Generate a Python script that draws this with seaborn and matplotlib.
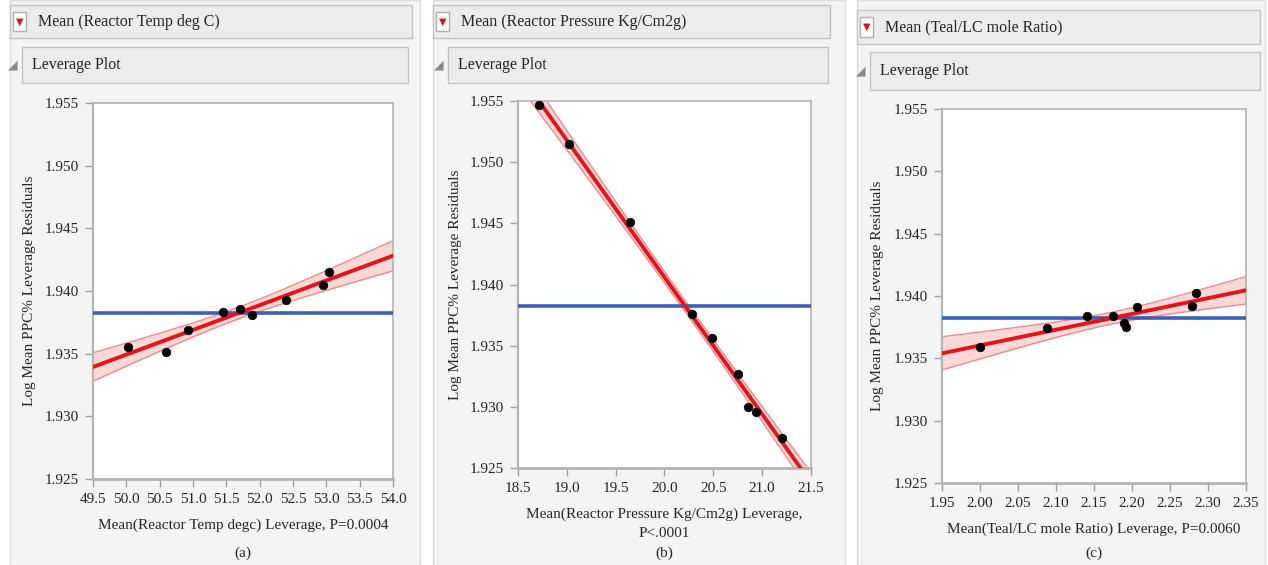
import numpy as np
import pandas as pd
import seaborn as sns
import matplotlib.pyplot as plt
from matplotlib.patches import Rectangle

# values
temp_x = [50.03, 50.60, 50.93, 51.45, 51.70, 51.89, 52.39, 52.95, 53.04]
temp_y = [1.93556, 1.93516, 1.93689, 1.93830, 1.93854, 1.93811, 1.93928, 1.94050, 1.94152]

press_x = [18.71, 19.02, 19.65, 20.28, 20.49, 20.75, 20.86, 20.94, 21.20]
press_y = [1.95467, 1.95148, 1.94508, 1.93759, 1.93560, 1.93268, 1.92999, 1.92955, 1.92743]

teal_x = [2.000, 2.088, 2.141, 2.175, 2.189, 2.192, 2.207, 2.279, 2.284]
teal_y = [1.93589, 1.93741, 1.93840, 1.93840, 1.93781, 1.93749, 1.93914, 1.93920, 1.94022]

temp_ticks = [49.5, 50.0, 50.5, 51.0, 51.5, 52.0, 52.5, 53.0, 53.5, 54.0]
press_ticks = [18.5, 19.0, 19.5, 20.0, 20.5, 21.0, 21.5]
teal_ticks = [1.95, 2.00, 2.05, 2.10, 2.15, 2.20, 2.25, 2.30, 2.35]
y_ticks = [1.925, 1.930, 1.935, 1.940, 1.945, 1.950, 1.955]

headers = ["Mean (Reactor Temp deg C)", "Mean (Reactor Pressure Kg/Cm2g)", "Mean (Teal/LC mole Ratio)"]
xlabels = ["Mean(Reactor Temp degc) Leverage, P=0.0004",
           "Mean(Reactor Pressure Kg/Cm2g) Leverage,\nP<.0001",
           "Mean(Teal/LC mole Ratio) Leverage, P=0.0060"]
letters = ["(a)", "(b)", "(c)"]

sns.set_style("white")
plt.rcParams['font.family'] = ['Liberation Serif', 'DejaVu Serif']
plt.rcParams['font.size'] = 11

W, H = 1268, 565
fig = plt.figure(figsize=(W / 100, H / 100), dpi=100)


def box(x0, y0, x1, y1):
    return [x0 / W, 1 - y1 / H, (x1 - x0) / W, (y1 - y0) / H]


def rect(x0, y0, x1, y1, fc, ec, z=-10):
    b = box(x0, y0, x1, y1)
    fig.add_artist(Rectangle((b[0], b[1]), b[2], b[3], transform=fig.transFigure,
                             facecolor=fc, edgecolor=ec, lw=1, zorder=z))


# panel layout in pixels
panels = [
    dict(bg=(10, 0, 420, 565), head=(10, 5, 412, 38), lev=(22, 47, 408, 83),
         ax=(93, 103, 393, 479), ylab_x=30, let_y=553),
    dict(bg=(433, 0, 845, 565), head=(433, 5, 830, 38), lev=(448, 47, 828, 83),
         ax=(518, 101, 811, 468), ylab_x=455, let_y=553),
    dict(bg=(857, 0, 1265, 565), head=(857, 10, 1260, 44), lev=(870, 52, 1260, 90),
         ax=(942, 109, 1246, 483), ylab_x=877, let_y=553),
]
data = [(temp_x, temp_y, temp_ticks, "{:.1f}"),
        (press_x, press_y, press_ticks, "{:.1f}"),
        (teal_x, teal_y, teal_ticks, "{:.2f}")]

for i, (p, (xv, yv, xt, fmt)) in enumerate(zip(panels, data)):
    rect(*p['bg'], '#f4f4f4', '#dddddd', z=-20)
    rect(*p['head'], '#ececec', '#c4c4c4')
    rect(*p['lev'], '#ececec', '#c4c4c4')
    hx0, hy0, hx1, hy1 = p['head']
    # red disclosure icon
    rect(hx0 + 3, hy0 + 7, hx0 + 16, hy1 - 7, 'white', '#b0b0b0', z=-5)
    fig.text((hx0 + 9.5) / W, 1 - ((hy0 + hy1) / 2) / H, "\u25BC", color='#d8141c',
             fontsize=7, ha='center', va='center', family='DejaVu Sans')
    fig.text((hx0 + 28) / W, 1 - ((hy0 + hy1) / 2) / H, headers[i],
             fontsize=11.5, ha='left', va='center')
    lx0, ly0, lx1, ly1 = p['lev']
    fig.text((lx0 - 9) / W, 1 - ((ly0 + ly1) / 2) / H, "\u25E2", color='#8a8a8a',
             fontsize=9, ha='center', va='center', family='DejaVu Sans')
    fig.text((lx0 + 10) / W, 1 - ((ly0 + ly1) / 2) / H, "Leverage Plot",
             fontsize=11.5, ha='left', va='center')

    ax = fig.add_axes(box(*p['ax']))
    ax.set_facecolor('white')
    x = np.array(xv)
    y = np.array(yv)
    ax.set_xlim(xt[0], xt[-1])
    ax.set_ylim(1.925, 1.955)

    # least squares fit and 95% confidence curves
    n = len(x)
    b1, b0 = np.polyfit(x, y, 1)
    resid = y - (b0 + b1 * x)
    s = np.sqrt(np.sum(resid ** 2) / (n - 2))
    sxx = np.sum((x - x.mean()) ** 2)
    xs = np.linspace(xt[0], xt[-1], 200)
    fit = b0 + b1 * xs
    half = 2.365 * s * np.sqrt(1 / n + (xs - x.mean()) ** 2 / sxx)
    ax.fill_between(xs, fit - half, fit + half, color='#f7b8b8', alpha=0.55, lw=0)
    ax.plot(xs, fit - half, color='#f08a8a', lw=1)
    ax.plot(xs, fit + half, color='#f08a8a', lw=1)
    ax.axhline(y.mean(), color='#3a5fb5', lw=2.6, zorder=3)
    line_df = pd.DataFrame({'x': xs, 'fit': fit})
    sns.lineplot(data=line_df, x='x', y='fit', color='#e5141b', lw=2.8, ax=ax, zorder=4)
    pts = pd.DataFrame({'x': x, 'y': y})
    sns.scatterplot(data=pts, x='x', y='y', color='black', s=38, edgecolor='black',
                    ax=ax, zorder=5)

    ax.set_xticks(xt)
    ax.set_xticklabels([fmt.format(v) for v in xt])
    ax.set_yticks(y_ticks)
    ax.set_yticklabels(["{:.3f}".format(v) for v in y_ticks])
    ax.tick_params(axis='both', direction='out', length=6, width=1, color='#a0a0a0',
                   labelsize=11, pad=4, left=True, bottom=True)
    for sp in ax.spines.values():
        sp.set_color('#b4b4b4')
        sp.set_linewidth(1.2)
    ax.spines['bottom'].set_linewidth(2)
    ax.spines['left'].set_linewidth(1.6)
    ax.set_xlabel(xlabels[i], fontsize=11, labelpad=9, linespacing=1.6)
    ax.set_ylabel("")
    ax0, ay0, ax1, ay1 = p['ax']
    fig.text(p['ylab_x'] / W, 1 - ((ay0 + ay1) / 2) / H, "Log Mean PPC% Leverage Residuals",
             rotation=90, fontsize=11, ha='center', va='center')
    fig.text(((ax0 + ax1) / 2) / W, 1 - p['let_y'] / H, letters[i], fontsize=11,
             ha='center', va='center')

fig.savefig("out.png", dpi=100, facecolor='white')
